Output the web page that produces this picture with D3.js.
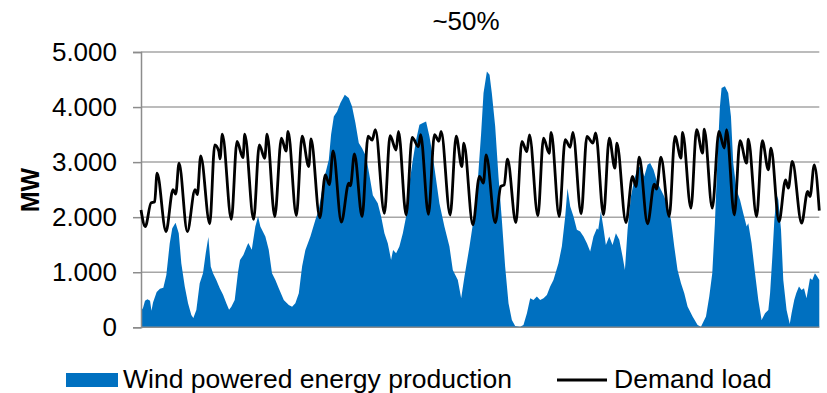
<!DOCTYPE html>
<html>
<head>
<meta charset="utf-8">
<script src="https://cdn.jsdelivr.net/npm/d3@7"></script>
<style>
  html, body { margin: 0; padding: 0; background: #fff; }
  svg { display: block; }
  text { font-family: "Liberation Sans", Arial, sans-serif; }
</style>
</head>
<body>
<svg id="chart" width="827" height="393"></svg>
<script>
// ---- Data (hours since start of month, values in MW) ----
const chartTitle = "~50%";
const yAxisLabel = "MW";
const seriesNames = ["Wind powered energy production", "Demand load"];
const yTickValues = [0, 1000, 2000, 3000, 4000, 5000];
const monthHours = 744;

const windHours = [0,2.2,4.4,7.1,9.9,11.5,13.2,17.2,20.8,24.5,27.8,31.5,34.3,37.9,41.4,44.2,48.0,51.6,55.2,57.4,60.7,64.4,68.0,71.0,73.9,76.5,79.0,82.6,86.4,90.0,93.6,96.6,99.1,102.8,106.4,108.6,112.3,116.0,117.7,121.5,125.4,128.4,130.9,136.4,140.1,143.7,147.4,151.1,156.6,162.1,165.7,169.3,173.1,176.7,180.3,185.8,191.3,195.0,200.5,206.0,208.5,211.5,215.1,218.7,223.5,227.9,231.5,235.2,238.9,242.5,246.9,250.2,254.3,259.7,263.4,267.0,270.7,274.3,276.5,279.8,283.4,287.2,290.8,294.4,298.2,301.8,305.4,309.1,312.7,316.4,320.1,323.7,327.3,332.8,338.3,342.0,347.5,351.2,354.8,360.3,365.8,369.5,373.1,375.7,379.4,382.3,384.8,388.5,392.1,395.8,399.4,403.1,406.8,410.4,415.9,419.5,423.3,426.9,430.5,434.2,437.8,441.5,445.2,448.8,452.4,457.9,461.6,465.3,467.8,470.8,474.4,478.1,481.7,485.4,489.1,492.7,496.3,500.1,501.5,504.4,507.0,509.9,513.6,517.2,520.9,524.6,528.2,530.8,533.7,537.4,541.0,544.6,548.4,552.0,555.6,558.5,562.2,565.9,570.3,573.9,577.5,581.3,584.9,588.5,592.3,595.9,599.5,605.0,610.5,614.2,619.7,623.3,626.6,629.5,632.4,635.0,636.8,640.5,644.1,647.1,649.6,653.2,657.0,660.6,664.3,666.1,669.7,673.5,677.1,680.7,684.5,688.1,690.0,692.5,694.7,697.2,699.0,702.0,704.5,708.1,711.6,713.6,716.5,718.7,721.7,724.6,727.2,730.0,733.8,736.3,739.2,741.7,744];
const windMW = [300,350,480,510,480,300,450,640,700,720,950,1520,1800,1900,1710,1165,740,437,225,170,315,800,980,1345,1640,1105,980,860,710,590,437,320,375,497,1000,1224,1315,1467,1530,1410,1830,2012,1830,1650,1410,980,860,710,497,406,375,437,618,1103,1406,1648,1952,2133,2679,3042,3500,3830,3921,4073,4224,4164,4012,3709,3345,3254,3100,2800,2400,2254,2012,1709,1527,1224,1406,1345,1467,1709,2012,2618,3042,3406,3679,3709,3739,3467,3103,2679,2254,1830,1467,1042,860,527,921,1467,2073,2679,3527,4255,4648,4588,4255,3648,2739,1951,1103,436,133,24,12,42,255,527,497,558,497,527,588,739,861,1164,1467,2012,2527,2194,2012,1770,1739,1648,1527,1376,1648,1800,1770,2103,1830,1497,1648,1497,1709,1588,1285,1042,1770,2376,2679,2891,2921,2739,2952,2982,2860,2649,2497,2376,2194,1952,1467,1042,800,618,376,194,42,12,194,558,982,1891,3103,4012,4345,4376,4255,3830,2982,2497,2315,2073,1830,1891,1527,982,497,133,255,315,618,1285,1952,2406,2315,1770,861,315,60,255,497,618,740,679,709,528,891,861,982,921,860];

const demandHours = [0,4.7,11.0,15.0,17.6,27.4,35.1,38.1,41.7,50.8,59.3,61.8,65.5,75.4,80.9,85.3,86.7,89.2,99.1,105.3,111.9,113.8,123.5,129.8,135.7,138.3,146.7,154.0,159.1,161.3,170.4,176.7,184.0,186.5,196.1,202.2,206.6,210.7,219.8,227.9,229.7,234.1,242.5,249.1,253.5,257.1,267.0,273.2,279.8,282.4,290.8,297.4,304.3,306.7,315.3,321.9,326.7,329.2,339.1,345.7,351.9,354.1,364.0,371.2,375.6,378.6,388.5,394.7,398.3,402.0,411.2,417.8,423.2,426.1,435.3,441.5,447.7,449.9,458.7,465.3,470.8,473.7,482.8,489.1,495.7,498.7,507.3,513.6,519.8,522.0,531.9,539.1,542.9,546.5,555.6,563.0,565.5,570.3,579.4,585.7,592.3,594.0,603.2,609.4,616.0,617.8,626.6,633.9,639.8,642.3,650.8,657.0,664.3,666.1,675.2,681.5,688.1,691.0,699.8,707.0,710.0,714.4,724.6,731.2,733.8,738.5,744];
const demandMW = [2130,1830,2260,2280,2800,1740,2500,2420,2980,1740,2500,2410,3115,1880,3315,3200,3060,3510,1960,3375,3080,3510,1960,3315,3070,3510,2010,3435,3200,3560,2030,3470,2920,3420,1990,2770,2590,3205,1910,2620,2570,3150,2010,3470,3400,3590,2070,3480,3220,3560,2040,3450,3280,3500,2050,3500,3380,3560,2040,3470,2920,3345,1860,2740,2620,3133,1900,2560,2585,3055,1900,3376,3190,3496,2024,3436,3160,3539,2010,3406,3270,3539,2060,3466,3345,3530,2042,3436,2891,3345,1903,2740,2557,3090,1879,2600,2510,3090,2012,3467,3072,3539,2163,3588,3163,3600,2163,3557,3254,3588,2042,3388,2982,3418,2012,3388,2860,3254,1921,2679,2527,3012,1891,2467,2376,2951,2120];

const windColor = "#0070C0";
const demandColor = "#000000";

// ---- Chart ----
const svg = d3.select("#chart");
const plot = { left: 141, right: 819.3, top: 52, bottom: 327.3 };

const x = d3.scaleLinear().domain([0, monthHours]).range([plot.left, plot.right]);
const y = d3.scaleLinear().domain([0, 5000]).range([plot.bottom, plot.top]);

const locale = d3.formatLocale({ decimal: ",", thousands: ".", grouping: [3], currency: ["", "€"] });
const fmt = locale.format(",d");

// gridlines
svg.append("g")
  .selectAll("line")
  .data(yTickValues.filter(v => v > 0))
  .join("line")
  .attr("x1", plot.left).attr("x2", plot.right)
  .attr("y1", d => y(d)).attr("y2", d => y(d))
  .attr("stroke", "#a6a6a6").attr("stroke-width", 1.5);

// wind area
const windData = windHours.map((h, i) => ({ h, v: windMW[i] }));
svg.append("path")
  .datum(windData)
  .attr("fill", windColor)
  .attr("d", d3.area().x(d => x(d.h)).y0(y(0)).y1(d => y(d.v)).curve(d3.curveLinear));

// axes lines
const yAxis = d3.axisLeft(y).tickValues(yTickValues).tickSize(8).tickPadding(16).tickFormat(d => fmt(d));
const gy = svg.append("g").attr("transform", `translate(${plot.left},0)`).call(yAxis);
gy.select(".domain").attr("stroke", "#8c8c8c").attr("stroke-width", 1.5);
gy.selectAll(".tick line").attr("stroke", "#8c8c8c").attr("stroke-width", 1.5);
gy.selectAll(".tick text")
  .attr("font-size", 26).attr("fill", "#000")
  .attr("font-family", "'Liberation Sans', Arial, sans-serif");

svg.append("line")
  .attr("x1", plot.left).attr("x2", plot.right)
  .attr("y1", y(0)).attr("y2", y(0))
  .attr("stroke", "#8c8c8c").attr("stroke-width", 1.5);

// demand line
const demandData = demandHours.map((h, i) => ({ h, v: demandMW[i] }));
svg.append("path")
  .datum(demandData)
  .attr("fill", "none")
  .attr("stroke", demandColor)
  .attr("stroke-width", 2.8)
  .attr("stroke-linejoin", "round")
  .attr("d", d3.line().x(d => x(d.h)).y(d => y(d.v)).curve(d3.curveMonotoneX));

// title
svg.append("text")
  .attr("x", 466).attr("y", 30)
  .attr("text-anchor", "middle")
  .attr("font-size", 26)
  .text(chartTitle);

// y label
svg.append("text")
  .attr("transform", "translate(39,190) rotate(-90)")
  .attr("text-anchor", "middle")
  .attr("font-size", 25)
  .attr("font-weight", "bold")
  .text(yAxisLabel);

// legend
const lg = svg.append("g");
lg.append("rect").attr("x", 66).attr("y", 373).attr("width", 52).attr("height", 14).attr("fill", windColor);
lg.append("text").attr("x", 123).attr("y", 388).attr("font-size", 26.5).text(seriesNames[0]);
lg.append("line").attr("x1", 557).attr("x2", 607).attr("y1", 380).attr("y2", 380)
  .attr("stroke", demandColor).attr("stroke-width", 2.8);
lg.append("text").attr("x", 614).attr("y", 388).attr("font-size", 26.5).text(seriesNames[1]);
</script>
</body>
</html>
